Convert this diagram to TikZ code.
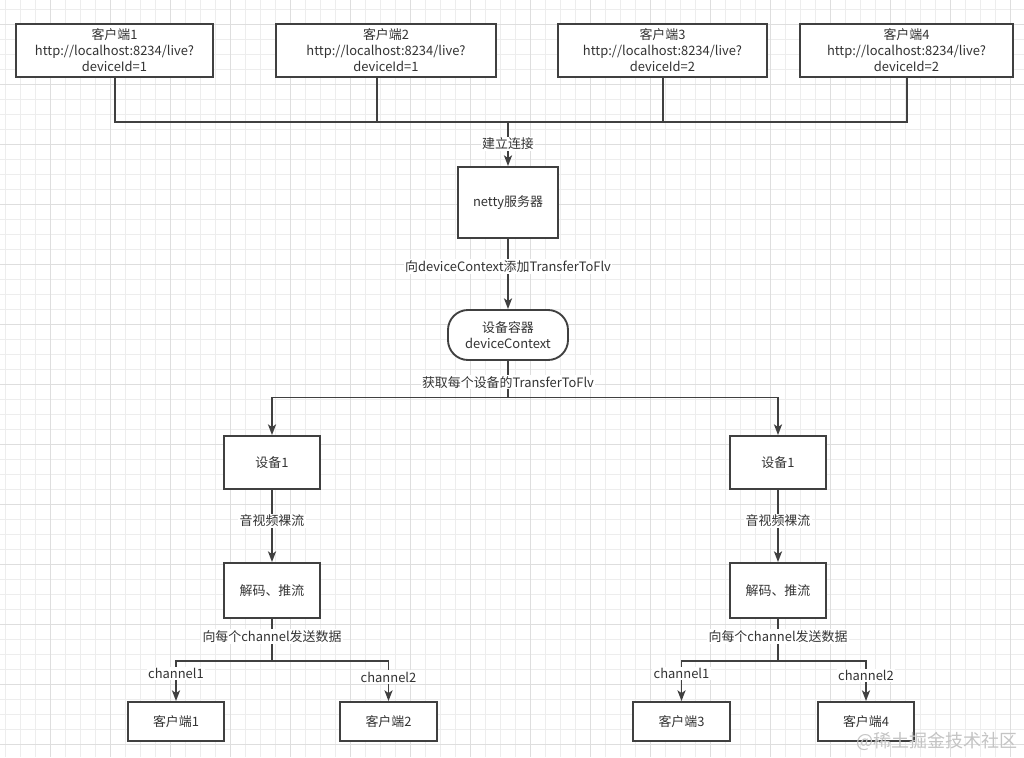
\documentclass[tikz,border=0pt]{standalone}
\usepackage{fontspec}
\setmainfont{Noto Sans CJK SC}
\usetikzlibrary{arrows.meta}
\definecolor{ln}{HTML}{404040}
\definecolor{tx}{HTML}{333333}
\definecolor{gmin}{HTML}{EDEDED}
\definecolor{gmaj}{HTML}{DEDEDE}
\definecolor{wm}{HTML}{C4C4C4}
\begin{document}
\begin{tikzpicture}[x=0.75pt,y=-0.75pt,
  box/.style={draw=ln,line width=1.4pt,fill=white,text=tx,font=\fontsize{9.7}{12}\selectfont,align=center,inner sep=0pt},
  lab/.style={fill=white,text=tx,font=\fontsize{9.7}{11}\selectfont,inner sep=1pt},
  conn/.style={draw=ln,line width=1.4pt},
  arr/.style={conn,-{Stealth[length=8pt,width=6pt,inset=2pt]}}]
\useasboundingbox (0,0) rectangle (1024,757);
\fill[white] (0,0) rectangle (1024,757);
% grid
\foreach \i in {0,...,67} {\draw[gmin,line width=0.75pt] (5+15*\i,0) -- (5+15*\i,757);}
\foreach \i in {0,...,49} {\draw[gmin,line width=0.75pt] (0,9+15*\i) -- (1024,9+15*\i);}
\foreach \i in {0,...,16} {\draw[gmaj,line width=0.75pt] (50+60*\i,0) -- (50+60*\i,757);}
\foreach \i in {0,...,12} {\draw[gmaj,line width=0.75pt] (0,24+60*\i) -- (1024,24+60*\i);}

% top clients
\node[box,minimum width=147.75pt,minimum height=39.75pt] (c1) at (114.5,50.5) {客户端1\\http://localhost:8234/live?\\deviceId=1};
\node[box,minimum width=165pt,minimum height=39.75pt] (c2) at (386,50.5) {客户端2\\http://localhost:8234/live?\\deviceId=1};
\node[box,minimum width=156.75pt,minimum height=39.75pt] (c3) at (662.5,50.5) {客户端3\\http://localhost:8234/live?\\deviceId=2};
\node[box,minimum width=159.75pt,minimum height=39.75pt] (c4) at (906.5,50.5) {客户端4\\http://localhost:8234/live?\\deviceId=2};

\node[box,minimum width=75pt,minimum height=53.25pt] (netty) at (508,202.5) {netty服务器};
\node[box,minimum width=90pt,minimum height=37.5pt,rounded corners=15pt] (ctx) at (508,335) {设备容器\\deviceContext};

\node[box,minimum width=72pt,minimum height=39.75pt] (d1) at (272,462.5) {设备1};
\node[box,minimum width=72pt,minimum height=41.25pt] (e1) at (272,590.5) {解码、推流};
\node[box,minimum width=72pt,minimum height=39.75pt] (d2) at (778,462.5) {设备1};
\node[box,minimum width=72pt,minimum height=41.25pt] (e2) at (778,590.5) {解码、推流};

\node[box,minimum width=72pt,minimum height=29.25pt] (k1) at (176,721.5) {客户端1};
\node[box,minimum width=72.75pt,minimum height=29.25pt] (k2) at (388.5,721.5) {客户端2};
\node[box,minimum width=72.75pt,minimum height=29.25pt] (k3) at (681.5,721.5) {客户端3};
\node[box,minimum width=72pt,minimum height=29.25pt] (k4) at (866,721.5) {客户端4};

\coordinate (j1) at (508,122);
\coordinate (j2) at (508,397.5);
\coordinate (j3) at (272,661);
\coordinate (j4) at (778,661);

% top merge
\draw[conn] ([xshift=0.375pt]c1.south) |- (j1);
\draw[conn] ([xshift=-6.75pt]c2.south) |- (j1);
\draw[conn] ([xshift=0.375pt]c3.south) |- (j1);
\draw[conn] ([xshift=0.375pt]c4.south) |- (j1);
\draw[arr] (j1) -- node[lab] {建立连接} (netty);
\draw[arr] (netty) -- node[lab,pos=0.39] {向deviceContext添加TransferToFlv} (ctx);
\draw[conn] (ctx) -- node[lab,pos=0.58] {获取每个设备的TransferToFlv} (j2);
\draw[arr] (j2) -| (d1);
\draw[arr] (j2) -| (d2);

% left branch
\draw[arr] (d1) -- node[lab,pos=0.43] {音视频裸流} (e1);
\draw[conn] (e1) -- node[lab,pos=0.42] {向每个channel发送数据} (j3);
\draw[arr] (j3) -| node[lab,pos=0.66] {channel1} (k1);
\draw[arr] (j3) -| node[lab,pos=0.70] {channel2} (k2);

% right branch
\draw[arr] (d2) -- node[lab,pos=0.43] {音视频裸流} (e2);
\draw[conn] (e2) -- node[lab,pos=0.42] {向每个channel发送数据} (j4);
\draw[arr] (j4) -| node[lab,pos=0.66] {channel1} (k3);
\draw[arr] (j4) -| node[lab,pos=0.68] {channel2} (k4);

% watermark
\node[text=wm,font=\fontsize{13.5}{14}\selectfont,inner sep=0pt] (wmk) at (937,741) {@稀土掘金技术社区};
\end{tikzpicture}
\end{document}
